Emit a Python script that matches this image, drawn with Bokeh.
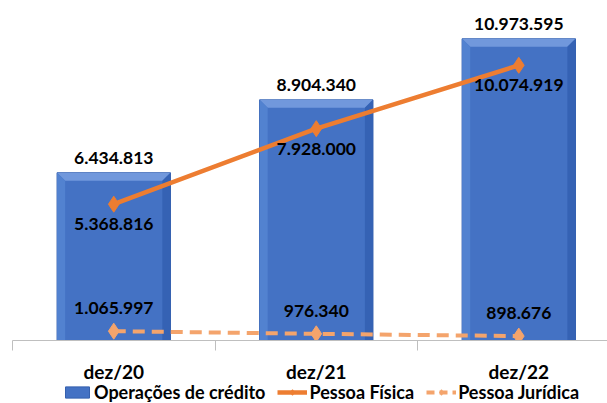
from bokeh.plotting import figure
from bokeh.layouts import column
from bokeh.models import (Range1d, FixedTicker, ColumnDataSource, Legend,
                          LegendItem, LinearAxis)
from bokeh.core.properties import value
from bokeh.embed import file_html
from bokeh.resources import INLINE

categories = ["dez/20", "dez/21", "dez/22"]
operacoes = [6434813, 8904340, 10973595]
pessoa_fisica = [5368816, 7928000, 10074919]
pessoa_juridica = [1065997, 976340, 898676]
series_names = ["Operações de crédito", "Pessoa Física", "Pessoa Jurídica"]


def fmt(v):
    return f"{v:,}".replace(",", ".")


Y0 = 750000
Y1 = 12000000
BAR_W = 0.56
FONT = "Lato"
BAR_C = "#4472C4"
PF_C = "#ED7D31"
PJ_C = "#F4A46C"
xs = list(range(len(categories)))

src = ColumnDataSource(dict(
    x=xs, cat=categories, op=operacoes, pf=pessoa_fisica, pj=pessoa_juridica,
    op_lbl=[fmt(v) for v in operacoes],
    pf_lbl=[fmt(v) for v in pessoa_fisica],
    pj_lbl=[fmt(v) for v in pessoa_juridica],
))

xr = Range1d(-0.5, 2.438)

# ---------------- main chart ----------------
p = figure(frame_width=595, frame_height=332, x_range=xr,
           y_range=Range1d(Y0, Y1), output_backend="svg",
           toolbar_location=None, x_axis_location=None, y_axis_location=None,
           min_border_left=12, min_border_right=0, min_border_top=8,
           min_border_bottom=12)
p.outline_line_color = None
p.xgrid.visible = False
p.ygrid.visible = False

bars = p.vbar(x="x", top="op", bottom=Y0, width=BAR_W, source=src,
              fill_color=BAR_C, line_color="#3560AE", line_width=1)

# bevel edges computed from the bar data
dx = 0.04
dy = 270000
top_x, top_y, left_x, left_y, right_x, right_y = [], [], [], [], [], []
for xi, t in zip(xs, operacoes):
    l, r = xi - BAR_W / 2, xi + BAR_W / 2
    top_x.append([l, r, r - dx, l + dx])
    top_y.append([t, t, t - dy, t - dy])
    left_x.append([l, l + dx, l + dx, l])
    left_y.append([t, t - dy, Y0, Y0])
    right_x.append([r, r - dx, r - dx, r])
    right_y.append([t, t - dy, Y0, Y0])
p.patches(top_x, top_y, fill_color="#7198DC", line_color=None)
p.patches(left_x, left_y, fill_color="#5282D0", line_color=None)
p.patches(right_x, right_y, fill_color="#3562B4", line_color=None)

p.line("x", "pf", source=src, line_color=PF_C, line_width=4.5)
p.scatter("x", "pf", source=src, marker="diamond", size=16,
          fill_color=PF_C, line_color=PF_C)
p.line("x", "pj", source=src, line_color=PJ_C, line_width=4, line_dash="12 7")
p.scatter("x", "pj", source=src, marker="diamond", size=16,
          fill_color=PJ_C, line_color=PJ_C)

common = dict(source=src, text_font=value(FONT), text_font_style="bold",
              text_font_size="17.5px", text_color="#000000",
              text_align="center", text_baseline="middle")
p.text(x="x", y="op", text="op_lbl", y_offset=-15, **common)
p.text(x="x", y="pf", text="pf_lbl", y_offset=20, **common)
p.text(x="x", y="pj", text="pj_lbl", y_offset=-23, **common)

# axis line with tick marks at the category boundaries only
axis = LinearAxis(
    ticker=FixedTicker(ticks=[],
                       minor_ticks=[i - 0.5 for i in range(len(categories) + 1)]),
    major_tick_line_color=None, major_tick_in=0, major_tick_out=0,
    minor_tick_in=0, minor_tick_out=10, minor_tick_line_color="#BFBFBF",
    axis_line_color="#BFBFBF", axis_label_standoff=0, major_label_standoff=0,
)
p.add_layout(axis, "below")

# ---------------- category labels + legend strip ----------------
q = figure(frame_width=595, frame_height=51, x_range=xr,
           y_range=Range1d(51, 0), output_backend="svg",
           toolbar_location=None, x_axis_location=None, y_axis_location=None,
           min_border_left=12, min_border_right=0, min_border_top=0,
           min_border_bottom=0)
q.outline_line_color = None
q.xgrid.visible = False
q.ygrid.visible = False

q.text(x="x", y=19, text="cat", source=src, text_font=value(FONT),
       text_font_style="bold", text_font_size="19px", text_color="#000000",
       text_align="center", text_baseline="middle")

# legend proxies: same data, which falls outside this strip's range
lg_bar = q.vbar(x="x", top="op", bottom="op", width=BAR_W, source=src,
                fill_color=BAR_C, line_color="#3560AE")
lg_pf_l = q.line("x", "pf", source=src, line_color=PF_C, line_width=4.5)
lg_pf_s = q.scatter("x", "pf", source=src, marker="diamond", size=14,
                    fill_color=PF_C, line_color=PF_C)
lg_pj_l = q.line("x", "pj", source=src, line_color=PJ_C, line_width=4,
                 line_dash="8 5")
lg_pj_s = q.scatter("x", "pj", source=src, marker="diamond", size=14,
                    fill_color=PJ_C, line_color=PJ_C)

legend = Legend(items=[
    LegendItem(label=series_names[0], renderers=[lg_bar]),
    LegendItem(label=series_names[1], renderers=[lg_pf_l, lg_pf_s]),
    LegendItem(label=series_names[2], renderers=[lg_pj_l, lg_pj_s]),
], orientation="horizontal", location=(50, 0),
    label_text_font=FONT, label_text_font_size="18px",
    label_text_font_style="bold", label_text_color="#000000",
    border_line_color=None, background_fill_alpha=0,
    padding=0, margin=0, spacing=12, glyph_width=30, glyph_height=14,
    label_standoff=2, label_height=18)
q.add_layout(legend, "center")

layout = column(p, q, spacing=0)
open("out.html", "w").write(file_html(layout, INLINE))
